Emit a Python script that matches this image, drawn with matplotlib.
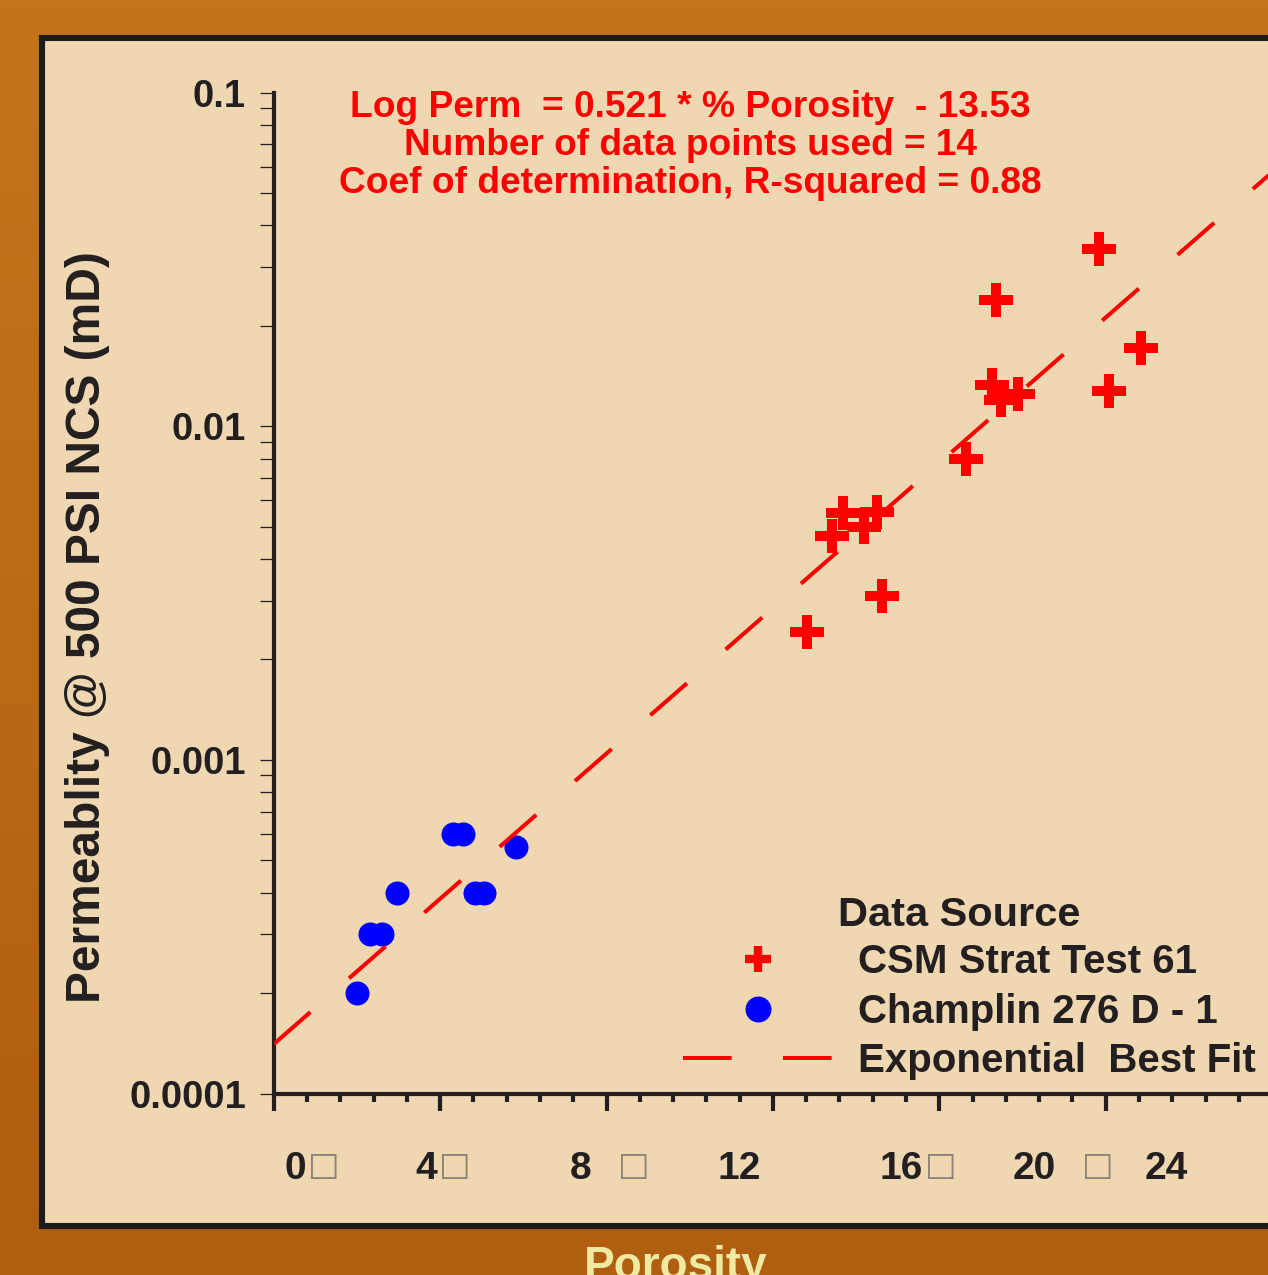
import numpy as np
import matplotlib
matplotlib.use("Agg")
import matplotlib.pyplot as plt
from matplotlib.patches import Rectangle
from matplotlib.colors import LinearSegmentedColormap
from matplotlib.ticker import MultipleLocator, LogLocator, NullFormatter

# --- data ---
csm_porosity = [12.82, 13.42, 13.69, 14.19, 14.50, 14.62, 16.64, 17.36, 17.27, 17.48,
                17.89, 19.84, 20.08, 20.85]
csm_perm = [0.00241, 0.00470, 0.00551, 0.00500, 0.00555, 0.00311, 0.00800, 0.0239,
            0.01334, 0.01202, 0.01253, 0.0340, 0.01280, 0.01717]

champlin_porosity = [2.00, 2.31, 2.60, 2.96, 4.31, 4.55, 4.84, 5.06, 5.83]
champlin_perm = [0.0002, 0.0003, 0.0003, 0.0004, 0.0006, 0.0006, 0.0004, 0.0004, 0.00055]

# best fit (log10 k = a + b * phi)
fit_a = -3.852
fit_b = 0.1089
fit_range = [0.0, 25.0]

y_tick_values = [1e-4, 1e-3, 1e-2, 1e-1]
y_tick_labels = ["0.0001", "0.001", "0.01", "0.1"]

# x tick labels as printed on the slide (digits + missing-glyph boxes)
x_label_digits = ["0", "4", "8", "12", "16", "20", "24"]
x_label_boxes = [True, True, True, False, True, True, False]

title_lines = ["Log Perm  = 0.521 * % Porosity  - 13.53",
               "Number of data points used = 14",
               "Coef of determination, R-squared = 0.88"]

# --- colours / layout ---
DARK = "#231f20"
BEIGE = "#efd7b1"
RED = "#ff0000"
BLUE = "#0000ff"
W, H = 1268, 1275
SANS = ["Liberation Sans", "DejaVu Sans"]

plt.rcParams["lines.scale_dashes"] = False

fig = plt.figure(figsize=(W / 100, H / 100), dpi=100)
renderer = fig.canvas.get_renderer()


def fit_width(t, target_px):
    # shrink/grow a text so it spans the same width as on the slide
    w = t.get_window_extent(renderer).width
    t.set_fontsize(t.get_fontsize() * target_px / w)


# background in pixel coordinates
bg = fig.add_axes([0, 0, 1, 1], zorder=0)
bg.set_xlim(0, W)
bg.set_ylim(H, 0)
bg.axis("off")
grad = np.linspace(0, 1, 256).reshape(-1, 1)
cmap = LinearSegmentedColormap.from_list("bgc", ["#c4751a", "#b05e10"])
bg.imshow(grad, cmap=cmap, aspect="auto", extent=(0, W, H, 0), zorder=0)
bg.add_patch(Rectangle((42, 38), 1400, 1188, facecolor=BEIGE, edgecolor="#1e1b1c",
                       linewidth=4.4, zorder=1))

# main axes
x_left, x_per_unit = 273.7, 41.6
y_top, y_bot = 92.7, 1093.5
ax = fig.add_axes([x_left / W, (H - y_bot) / H, 25 * x_per_unit / W, (y_bot - y_top) / H],
                  zorder=2)
ax.patch.set_alpha(0)
ax.set_yscale("log")
ax.set_xlim(0, 25)
ax.set_ylim(1e-4, 0.1)

ax.plot(csm_porosity, csm_perm, linestyle="none", marker="+", ms=24.5, mew=7.2,
        color=RED, label="CSM Strat Test 61", clip_on=False, zorder=3)
ax.plot(champlin_porosity, champlin_perm, linestyle="none", marker="o", ms=17.3, mew=0,
        color=BLUE, label="Champlin 276 D - 1", clip_on=False, zorder=3)
phi = np.array(fit_range)
ax.plot(phi, 10 ** (fit_a + fit_b * phi), color=RED, lw=2.9, dashes=(35, 37),
        label="Exponential  Best Fit", zorder=4)

for s in ["top", "right"]:
    ax.spines[s].set_visible(False)
for s in ["left", "bottom"]:
    ax.spines[s].set_linewidth(3)
    ax.spines[s].set_color(DARK)

ax.xaxis.set_major_locator(MultipleLocator(4))
ax.xaxis.set_minor_locator(MultipleLocator(0.8))
ax.tick_params(axis="x", which="major", direction="out", length=12, width=3, color=DARK,
               labelbottom=False)
ax.tick_params(axis="x", which="minor", direction="out", length=6, width=3, color=DARK)

ax.yaxis.set_minor_locator(LogLocator(base=10, subs=np.arange(2, 10), numticks=10))
ax.yaxis.set_minor_formatter(NullFormatter())
ax.set_yticks(y_tick_values)
ax.set_yticklabels(y_tick_labels)
ax.tick_params(axis="y", which="both", direction="out", length=10, width=0.9, color=DARK,
               pad=10, labelsize=27.5, labelcolor=DARK)
for lab in ax.get_yticklabels():
    lab.set_fontfamily(SANS)
    lab.set_fontweight("bold")

# x tick labels (slide places them with odd offsets)
digit_left_px = [285, 415, 570, 718, 880, 1013, 1145]
box_left_px = [312, 443, 622, None, 929, 1086, None]
for d, has_box, dl, bl in zip(x_label_digits, x_label_boxes, digit_left_px, box_left_px):
    bg.text(dl, 1179, d, ha="left", va="baseline", fontsize=28, fontweight="bold",
            family=SANS, color=DARK, zorder=3)
    if has_box:
        bg.text(bl - 4, 1175, "\u25a1", ha="left", va="baseline", fontsize=24,
                family=["DejaVu Sans"], color="#8a8178", zorder=3)

# axis labels
bg.text(88, 627, "Permeablity @ 500 PSI NCS (mD)", rotation=90, ha="center", va="center",
        fontsize=34.5, fontweight="bold", family=SANS, color=DARK, zorder=3)
bg.text(676, 1279, "Porosity", ha="center", va="baseline", fontsize=33,
        fontweight="bold", family=SANS, color="#efe9a2", zorder=3)

# red equation block, sized to the widths on the slide
title_widths = [680, 574, 702]
title_baselines = [117, 155, 193]
for line, tw, yb in zip(title_lines, title_widths, title_baselines):
    t = bg.text(690, yb, line, ha="center", va="baseline", fontsize=30,
                fontweight="bold", family=SANS, color=RED, zorder=3)
    fit_width(t, tw)

# legend
t = bg.text(838, 926, "Data Source", ha="left", va="baseline", fontsize=30,
            fontweight="bold", family=SANS, color=DARK, zorder=3)
fit_width(t, 242)
leg = ax.legend(loc="upper left", bbox_to_anchor=(683, 943), bbox_transform=bg.transData,
                frameon=False, borderpad=0, borderaxespad=0, handlelength=3.72,
                handletextpad=0.62, labelspacing=0.29,
                prop={"family": SANS, "weight": "bold", "size": 29})
for txt in leg.get_texts():
    txt.set_color(DARK)
hs = leg.legend_handles
hs[0].set_markersize(18.7)
hs[0].set_markeredgewidth(6)
hs[1].set_markersize(18.7)

fig.savefig("out.png", dpi=100)
